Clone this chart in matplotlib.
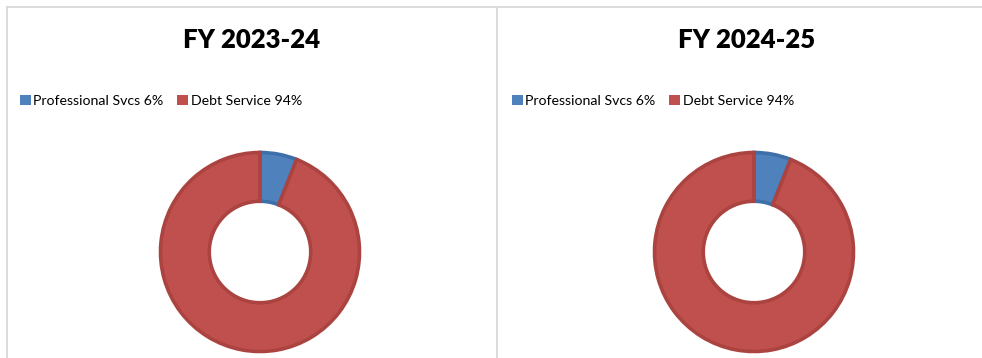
import matplotlib
matplotlib.use("Agg")
import matplotlib.pyplot as plt
from matplotlib.patches import Patch
from matplotlib.lines import Line2D

# Budget split per fiscal year
years = ["FY 2023-24", "FY 2024-25"]
categories = ["Professional Svcs", "Debt Service"]
shares_2023_24 = [6, 94]
shares_2024_25 = [6, 94]
all_shares = [shares_2023_24, shares_2024_25]

face_colors = ["#4F81BD", "#C0504D"]
edge_colors = ["#3F6FA9", "#AB4340"]

W, H = 982, 358
fig = plt.figure(figsize=(W / 100, H / 100), dpi=100)
fig.patch.set_facecolor("white")

FONT = ["Lato", "DejaVu Sans"]

# panel frames
frame = fig.add_axes([0, 0, 1, 1])
frame.set_xlim(0, W)
frame.set_ylim(H, 0)
frame.axis("off")
for seg in [((7, W), (7, 7)), ((7, 7), (7, H)), ((497, 497), (7, H))]:
    frame.add_line(Line2D(seg[0], seg[1], color="#D9D9D9", lw=1.3))

panel_centers = [260, 754]
title_centers = [252, 747]
legend_left = [20, 512]
cy = 252
R = 99.5

for i, (year, shares) in enumerate(zip(years, all_shares)):
    cx = panel_centers[i]
    half = R * 1.05
    ax = fig.add_axes([(cx - half) / W, (H - cy - half) / H, 2 * half / W, 2 * half / H])
    wedges, _ = ax.pie(
        shares,
        colors=face_colors,
        startangle=90,
        counterclock=False,
        radius=1.0,
        wedgeprops=dict(width=0.49, linewidth=2.6, joinstyle="miter"),
    )
    for w, ec in zip(wedges, edge_colors):
        w.set_edgecolor(ec)
    ax.set_xlim(-1.05, 1.05)
    ax.set_ylim(-1.05, 1.05)
    ax.set_aspect("equal")
    ax.axis("off")

    fig.text(title_centers[i] / W, 1 - 40 / H, year, ha="center", va="center",
             fontsize=18.5, fontweight="heavy", family=FONT, color="black")

    handles = [Patch(facecolor=c, edgecolor="none") for c in face_colors]
    labels = [f"{cat} {v}%" for cat, v in zip(categories, shares)]
    fig.legend(handles, labels, loc="center left",
               bbox_to_anchor=(legend_left[i] / W, 1 - 101 / H),
               ncol=2, frameon=False, handlelength=0.75, handleheight=0.75,
               handletextpad=0.2, columnspacing=0.95, borderaxespad=0, borderpad=0,
               prop=dict(family=FONT, size=10.2))

fig.savefig("out.png", dpi=100, facecolor="white")
